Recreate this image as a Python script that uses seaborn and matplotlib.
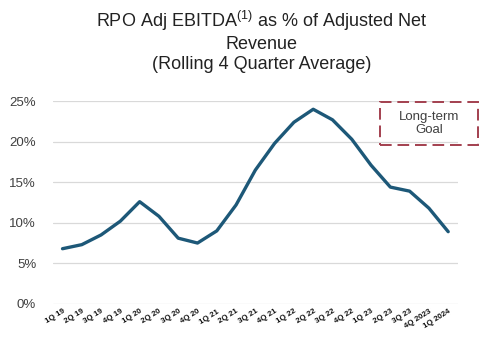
import matplotlib
matplotlib.use("Agg")
import matplotlib.pyplot as plt
import seaborn as sns
import pandas as pd
from matplotlib.patches import Rectangle
from matplotlib.ticker import PercentFormatter

quarters = ["1Q 19", "2Q 19", "3Q 19", "4Q 19", "1Q 20", "2Q 20", "3Q 20", "4Q 20",
            "1Q 21", "2Q 21", "3Q 21", "4Q 21", "1Q 22", "2Q 22", "3Q 22", "4Q 22",
            "1Q 23", "2Q 23", "3Q 23", "4Q 2023", "1Q 2024"]
ebitda_pct = [6.8, 7.3, 8.5, 10.2, 12.6, 10.8, 8.1, 7.5, 9.0, 12.2, 16.5, 19.8,
              22.4, 24.0, 22.7, 20.3, 17.1, 14.4, 13.9, 11.8, 8.9]

df = pd.DataFrame({"quarter": quarters, "pct": ebitda_pct})
df["x"] = range(len(df))

sns.set_style("white")
plt.rcParams["font.family"] = ["Liberation Sans", "DejaVu Sans"]
plt.rcParams["mathtext.fontset"] = "custom"
plt.rcParams["mathtext.rm"] = "Liberation Sans"

fig = plt.figure(figsize=(4.85, 3.6), dpi=100)
ax = fig.add_axes([0.109, 0.156, 0.835, 0.563])

sns.lineplot(data=df, x="x", y="pct", color="#1d5878", linewidth=2.4, ax=ax)

ax.set_xlim(-0.5, len(df) - 0.5)
ax.set_ylim(0, 25)
ax.set_yticks([0, 5, 10, 15, 20, 25])
ax.yaxis.set_major_formatter(PercentFormatter(decimals=0))
ax.set_xticks(df["x"])
ax.set_xticklabels(quarters, rotation=32, ha="right", rotation_mode="anchor",
                   fontsize=5.7, color="#111111", fontweight="semibold")
ax.tick_params(axis="y", labelsize=9.5, colors="#404040", length=0, pad=12)
ax.tick_params(axis="x", length=0, pad=3)
ax.grid(axis="y", color="#d9d9d9", linewidth=0.9)
ax.set_axisbelow(True)
for s in ax.spines.values():
    s.set_visible(False)
ax.set_xlabel("")
ax.set_ylabel("")

# long-term goal box
box = Rectangle((380 / 485, 1 - 145 / 360), 98 / 485, 43 / 360, transform=fig.transFigure,
                fill=False, edgecolor="#a3404f", linewidth=1.4, linestyle=(0, (6, 3)))
fig.patches.append(box)
fig.text(429 / 485, 1 - 123.5 / 360, "Long-term\nGoal", ha="center", va="center",
         fontsize=9.5, color="#404040", linespacing=1.15)

fig.text(0.54, 1 - 41 / 360,
         "RPO Adj EBITDA$^{\\mathrm{(1)}}$ as % of Adjusted Net\nRevenue\n(Rolling 4 Quarter Average)",
         ha="center", va="center", fontsize=13, color="#222222", linespacing=1.22)

fig.savefig("out.png", dpi=100)
